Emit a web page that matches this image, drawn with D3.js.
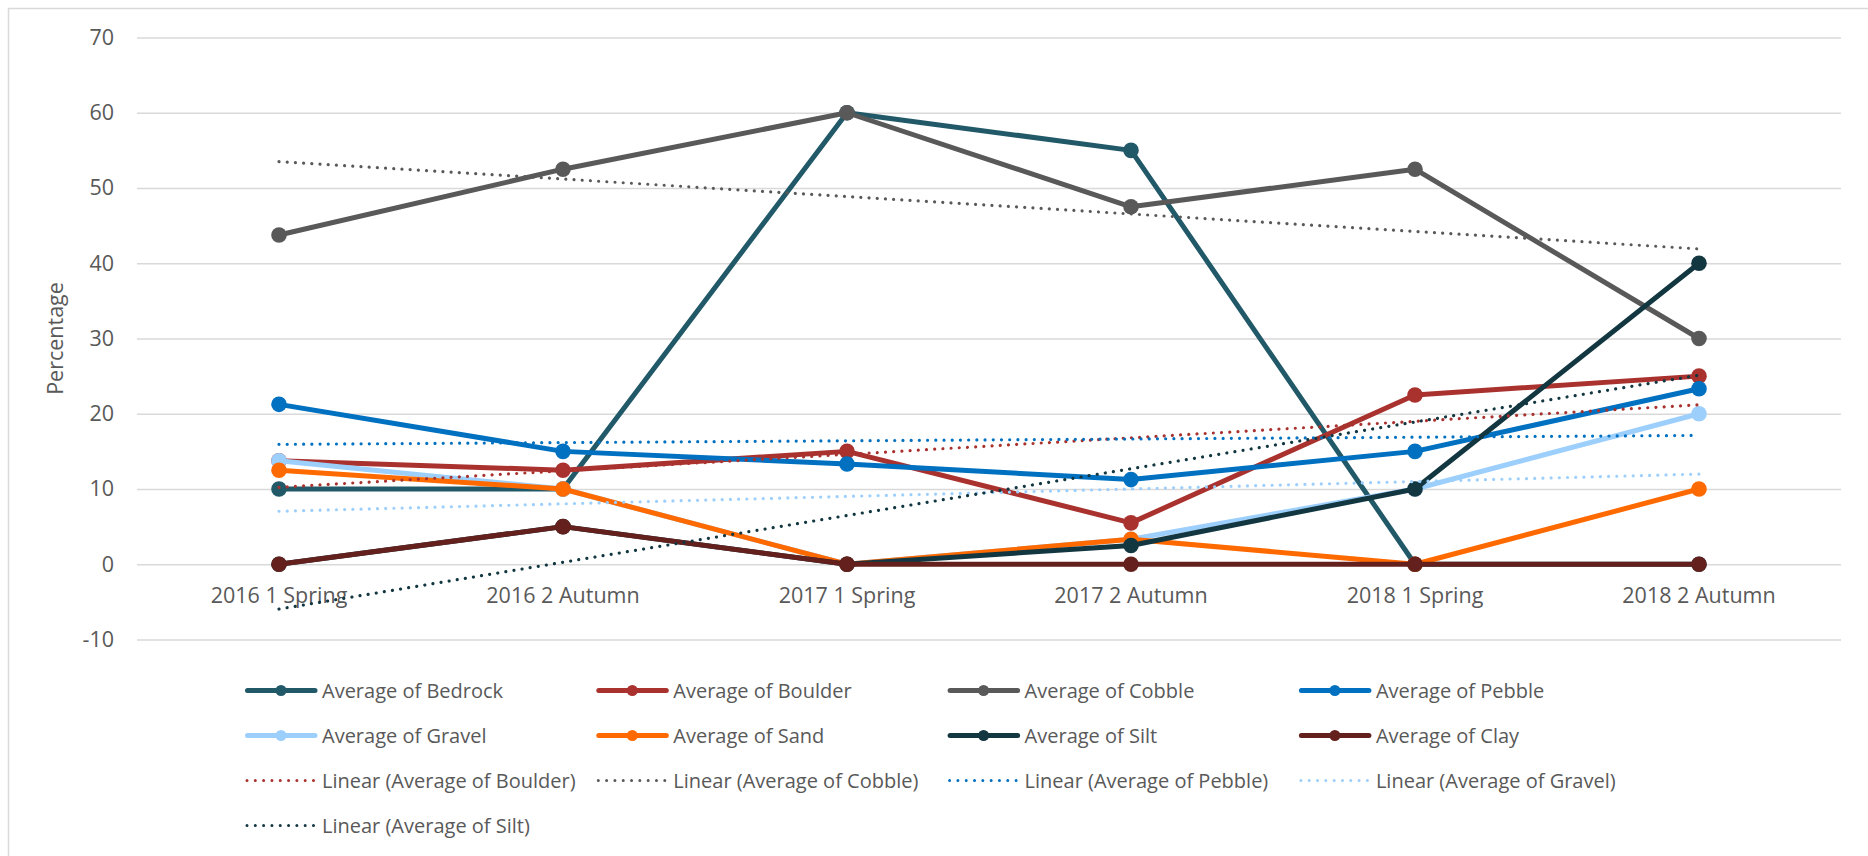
<!DOCTYPE html>
<html>
<head>
<meta charset="utf-8">
<script src="https://cdn.jsdelivr.net/npm/d3@7"></script>
<style>
  html, body { margin: 0; padding: 0; background: #fff; }
  svg { display: block; font-family: "Open Sans", sans-serif; }
</style>
</head>
<body>
<div id="chart"></div>
<script>
// categories along the x axis
const categories = ['2016 1 Spring', '2016 2 Autumn', '2017 1 Spring', '2017 2 Autumn', '2018 1 Spring', '2018 2 Autumn'];

// series values (percent)
const bedrock = [10, 10, 60, 55, 0, 0];
const boulder = [13.75, 12.5, 15, 5.5, 22.5, 25];
const cobble = [43.75, 52.5, 60, 47.5, 52.5, 30];
const pebble = [21.25, 15, 13.33, 11.25, 15, 23.33];
const gravel = [13.75, 10, 0, 3.33, 10, 20];
const sand = [12.5, 10, 0, 3.33, 0, 10];
const silt = [0, 5, 0, 2.5, 10, 40];
const clay = [0, 5, 0, 0, 0, 0];

const yTicks = [-10, 0, 10, 20, 30, 40, 50, 60, 70];

const series = [
	{ name: 'Average of Bedrock', values: bedrock, color: '#215968' },
	{ name: 'Average of Boulder', values: boulder, color: '#A9322F' },
	{ name: 'Average of Cobble', values: cobble, color: '#595959' },
	{ name: 'Average of Pebble', values: pebble, color: '#0070C0' },
	{ name: 'Average of Gravel', values: gravel, color: '#9DCFFD' },
	{ name: 'Average of Sand', values: sand, color: '#FF6A00' },
	{ name: 'Average of Silt', values: silt, color: '#133741' },
	{ name: 'Average of Clay', values: clay, color: '#63201D' },
];
// series that carry a linear trendline
const trendNames = ['Average of Boulder', 'Average of Cobble', 'Average of Pebble', 'Average of Gravel', 'Average of Silt'];

const width = 1868;
const height = 856;
const plot = { left: 137, right: 1841, top: 37.5, bottom: 639.5 };
const textColor = '#595959';
const gridColor = '#D9D9D9';
const axisFont = '21.5px';

const svg = d3.select('#chart')
	.append('svg')
		.attr('width', width)
		.attr('height', height);

// outer chart border (runs off the right/bottom edge in the original)
svg.append('rect')
	.attr('x', 8.5)
	.attr('y', 8.5)
	.attr('width', width + 20)
	.attr('height', height + 20)
	.attr('fill', '#fff')
	.attr('stroke', gridColor)
	.attr('stroke-width', 1.5);

const x = d3.scaleBand()
	.domain(categories)
	.range([plot.left, plot.right]);
const y = d3.scaleLinear()
	.domain([-10, 70])
	.range([plot.bottom, plot.top]);
const cx = (i) => x(categories[i]) + x.bandwidth() / 2;

// gridlines + y tick labels
const yAxis = d3.axisLeft(y)
	.tickValues(yTicks)
	.tickSize(-(plot.right - plot.left))
	.tickPadding(23)
	.tickFormat(d => String(d));
const gy = svg.append('g')
	.attr('transform', `translate(${plot.left},0)`)
	.call(yAxis);
gy.select('.domain').remove();
gy.selectAll('.tick line')
	.attr('stroke', gridColor)
	.attr('stroke-width', 1.5);
gy.selectAll('.tick text')
	.attr('fill', textColor)
	.style('font-size', axisFont)
	.style('font-family', '"Open Sans", sans-serif');

// category labels sit under the zero line
svg.append('g')
	.selectAll('text')
	.data(categories)
	.enter()
		.append('text')
			.attr('x', d => x(d) + x.bandwidth() / 2)
			.attr('y', y(0) + 31)
			.attr('dy', '0.35em')
			.attr('text-anchor', 'middle')
			.attr('fill', textColor)
			.style('font-size', axisFont)
			.text(d => d);

// y axis title
svg.append('text')
	.attr('transform', `translate(55,${(plot.top + plot.bottom) / 2}) rotate(-90)`)
	.attr('text-anchor', 'middle')
	.attr('dy', '0.35em')
	.attr('fill', textColor)
	.style('font-size', axisFont)
	.text('Percentage');

const line = d3.line()
	.x((d, i) => cx(i))
	.y(d => y(d));

const body = svg.append('g').attr('class', 'body');

series.forEach(s => {
	const g = body.append('g');
	g.append('path')
		.datum(s.values)
		.attr('d', line)
		.attr('fill', 'none')
		.attr('stroke', s.color)
		.attr('stroke-width', 5)
		.attr('stroke-linejoin', 'round')
		.attr('stroke-linecap', 'round');
	g.selectAll('circle')
		.data(s.values)
		.enter()
			.append('circle')
				.attr('cx', (d, i) => cx(i))
				.attr('cy', d => y(d))
				.attr('r', 7.8)
				.attr('fill', s.color);
});

// least squares fit over category index 1..n
function linearFit(values) {
	const n = values.length;
	const xs = values.map((d, i) => i + 1);
	const mx = d3.mean(xs);
	const my = d3.mean(values);
	let sxy = 0, sxx = 0;
	xs.forEach((xv, i) => {
		sxy += (xv - mx) * (values[i] - my);
		sxx += (xv - mx) * (xv - mx);
	});
	const slope = sxy / sxx;
	const b = my - slope * mx;
	return [b + slope * 1, b + slope * n];
}

const trendSeries = series.filter(s => trendNames.includes(s.name));
trendSeries.forEach(s => {
	const ends = linearFit(s.values);
	body.append('line')
		.attr('x1', cx(0))
		.attr('x2', cx(s.values.length - 1))
		.attr('y1', y(ends[0]))
		.attr('y2', y(ends[1]))
		.attr('stroke', s.color)
		.attr('stroke-width', 3.2)
		.attr('stroke-linecap', 'round')
		.attr('stroke-dasharray', '0.01 8.2');
});

// legend: 4 columns, solid series first then trendlines
const legendItems = series.map(s => ({ label: s.name, color: s.color, trend: false }))
	.concat(trendSeries.map(s => ({ label: `Linear (${s.name})`, color: s.color, trend: true })));
const legend = svg.append('g').attr('class', 'legend');
const colX = 245;
const colStep = 351.3;
const rowY = 690.5;
const rowStep = 45;
const item = legend.selectAll('g')
	.data(legendItems)
	.enter()
		.append('g')
			.attr('transform', (d, i) => `translate(${colX + (i % 4) * colStep},${rowY + Math.floor(i / 4) * rowStep})`);
item.filter(d => !d.trend)
	.append('line')
		.attr('x1', 2.5)
		.attr('x2', 70)
		.attr('stroke', d => d.color)
		.attr('stroke-width', 5)
		.attr('stroke-linecap', 'round');
item.filter(d => !d.trend)
	.append('circle')
		.attr('cx', 36)
		.attr('r', 5.5)
		.attr('fill', d => d.color);
item.filter(d => d.trend)
	.append('line')
		.attr('x1', 2)
		.attr('x2', 70)
		.attr('stroke', d => d.color)
		.attr('stroke-width', 3)
		.attr('stroke-linecap', 'round')
		.attr('stroke-dasharray', '0.01 8.3');
item.append('text')
	.attr('x', 77)
	.attr('dy', '0.35em')
	.attr('fill', textColor)
	.style('font-size', '20px')
	.text(d => d.label);
</script>
</body>
</html>
